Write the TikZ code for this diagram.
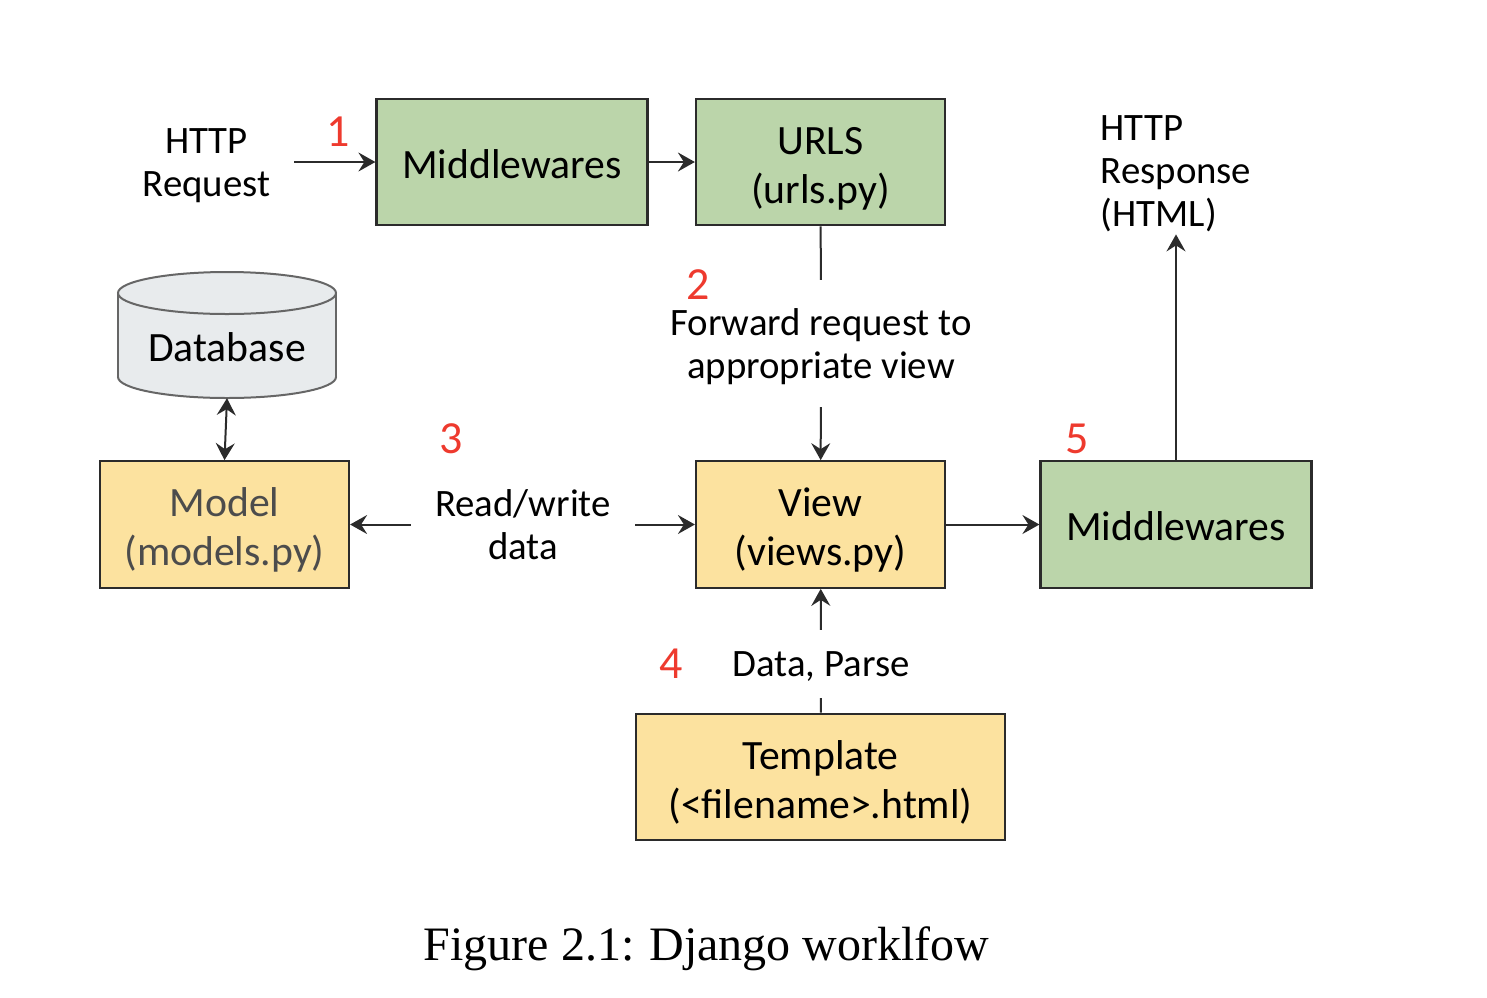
\documentclass[tikz,border=0pt]{standalone}
\usepackage{fontspec}
\setmainfont{Carlito}
\newfontfamily\capfont{Liberation Serif}
\usetikzlibrary{arrows.meta}
\definecolor{boxgreen}{HTML}{BBD5AA}
\definecolor{boxyellow}{HTML}{FCE29F}
\definecolor{dbgrey}{HTML}{E8EBED}
\definecolor{numred}{HTML}{EE3A2E}
\definecolor{linedark}{HTML}{2B2B2B}
\newcommand{\topstrut}{\rule{0pt}{40pt}}
\tikzset{
	bigtext/.style = {font=\fontsize{41.7}{49}\selectfont},
	smalltext/.style = {font=\fontsize{38.8}{43}\selectfont},
	box/.style = {draw=linedark, line width=2.2pt, inner sep=0pt, align=center, minimum height=126.5pt, bigtext},
	greenbox/.style = {box, fill=boxgreen, minimum width=271pt},
	yellowbox/.style = {box, fill=boxyellow, minimum width=249pt},
	lbl/.style = {smalltext, align=center, inner xsep=24pt, inner ysep=0pt},
	numlbl/.style = {font=\fontsize{46}{46}\selectfont, text=numred, inner sep=0pt},
	link/.style = {line width=2pt, draw=linedark},
	arrow/.style = {link, -{Stealth[length=17pt, width=19pt, inset=6pt]}},
	dblarrow/.style = {link, {Stealth[length=17pt, width=19pt, inset=6pt]}-{Stealth[length=17pt, width=19pt, inset=6pt]}}
}

\begin{document}
\begin{tikzpicture}[x=1pt, y=-1pt]
	\useasboundingbox (0,0) rectangle (1487,997);
	% database drum
	\draw[draw=black!60, line width=2pt, fill=dbgrey] (227,377) ellipse [x radius=109, y radius=21];
	\fill[dbgrey] (118,293) rectangle (336,377);
	\draw[draw=black!60, line width=2pt] (118,293) -- (118,377) (336,293) -- (336,377);
	\draw[draw=black!60, line width=2pt, fill=dbgrey] (227,293) ellipse [x radius=109, y radius=21];
	\node[bigtext, minimum width=218pt, minimum height=126pt, inner sep=0pt] (db) at (227,335) {\rule{0pt}{54pt}Database};
	% boxes
	\node[greenbox, text height=33pt] (mwin) at (512,162) {Middlewares};
	\node[yellowbox, fill=boxgreen] (urls) at (820.5,162) {\topstrut URLS\\(urls.py)};
	\node[yellowbox] (model) at (224.5,524.5) {\topstrut\textcolor{black!70}{Model}\\\textcolor{black!70}{(models.py)}};
	\node[yellowbox] (view) at (820.5,524.5) {\topstrut View\\(views.py)};
	\node[greenbox, text height=33pt] (mwout) at (1176,524.5) {Middlewares};
	\node[yellowbox, minimum width=369pt] (template) at (820.5,777) {\topstrut Template\\(<filename>.html)};
	% labels
	\node[lbl] (request) at (206.5,161) {\rule{0pt}{34pt}HTTP\\Request};
	\node[lbl, minimum height=127pt] (forward) at (821,343.5) {\rule{0pt}{34pt}Forward request to\\appropriate view};
	\node[lbl] (readwrite) at (523,525) {Read/write\\data};
	\node[lbl, minimum height=68pt, text height=30pt] (parse) at (821,664) {Data, Parse};
	\node[lbl, align=left, inner ysep=2pt] (response) at (1176,170) {\rule{0pt}{33pt}HTTP\\Response\\(HTML)};
	% numbers
	\foreach \num/\xx/\yy in {1/338/132, 2/698/285, 3/451/439, 4/671/664, 5/1077.5/439} {
		\node[numlbl] (n\num) at (\xx,\yy) {\num};
	}
	% connectors
	\draw[arrow] (mwin -| request.east) -- (mwin);
	\draw[arrow] (mwin) -- (urls);
	\draw[link] (urls) -- (forward);
	\draw[arrow] (forward) -- (view);
	\draw[arrow] (model -| readwrite.west) -- (model);
	\draw[arrow] (view -| readwrite.east) -- (view);
	\draw[arrow] (view) -- (mwout);
	\draw[arrow] (mwout) -- (response);
	\draw[arrow] (parse) -- (view);
	\draw[link] (parse) -- (template);
	\draw[dblarrow] (db.south) -- (model.north);
	% caption
	\node[inner sep=0pt, font=\capfont\fontsize{48}{48}\selectfont] (caption) at (706.5,949) {Figure 2.1:\hspace{15pt}Django worklfow};
\end{tikzpicture}
\end{document}
